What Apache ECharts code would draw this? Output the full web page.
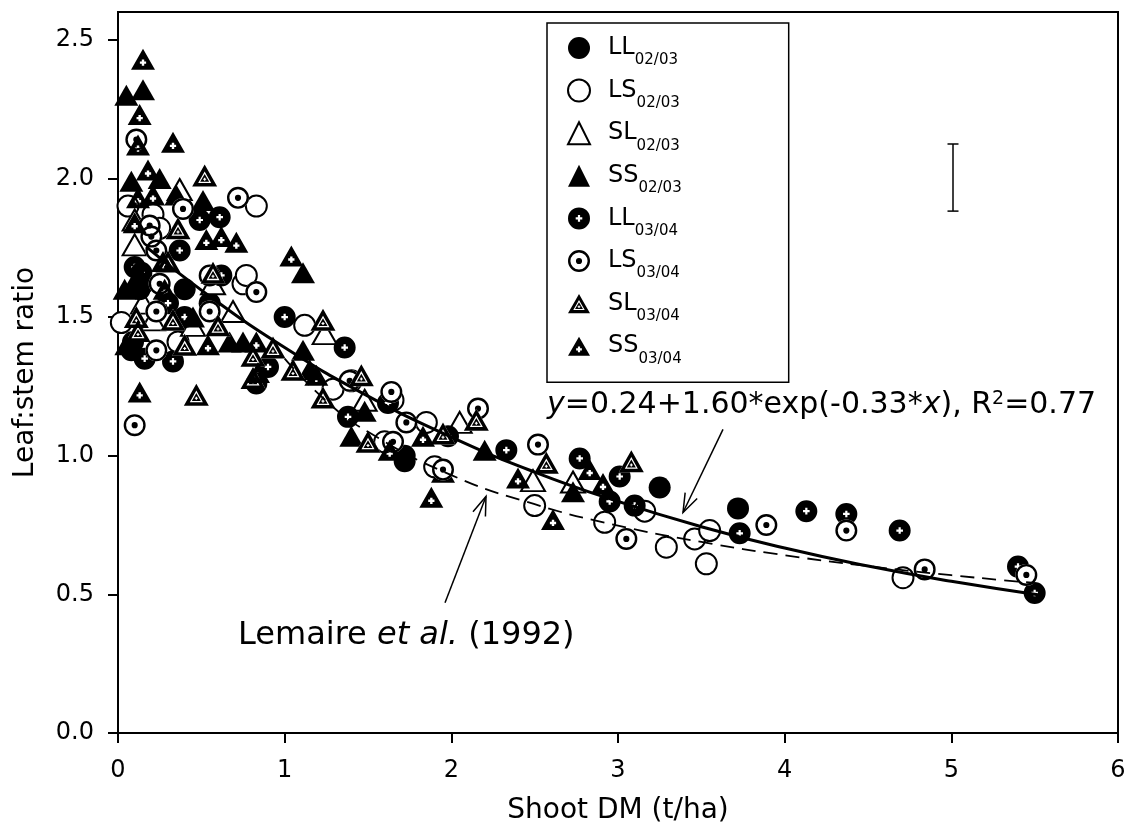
<!DOCTYPE html>
<html><head><meta charset="utf-8">
<script src="https://cdn.jsdelivr.net/npm/echarts@6/dist/echarts.min.js"></script>
<style>html,body{margin:0;padding:0;background:#fff}#c{width:1130px;height:839px}</style>
</head><body><div id="c"></div>
<script>
// ---- data ----
const LL0203 = [[0.40,1.60],[0.15,1.62],[0.55,1.55],[1.72,1.00],[3.25,0.885],[3.72,0.81]];
const LS0203 = [[0.02,1.48],[0.06,1.90],[0.21,1.87],[0.25,1.82],[0.36,1.41],[0.75,1.62],[0.77,1.65],[0.83,1.90],[1.12,1.47],[1.29,1.24],[1.40,1.27],[1.60,1.05],[1.65,1.20],[1.85,1.12],[1.90,0.96],[2.50,0.82],[2.92,0.76],[3.16,0.80],[3.29,0.67],[3.46,0.70],[3.53,0.61],[3.55,0.73],[4.71,0.56]];
const SL0203 = [[0.10,1.76],[0.10,1.85],[0.15,1.55],[0.21,1.49],[0.37,1.96],[0.45,1.47],[0.57,1.62],[0.69,1.52],[1.24,1.44],[1.48,1.20],[2.05,1.12],[2.49,0.91],[2.73,0.905]];
const SS0203 = [[0.04,1.60],[0.05,2.30],[0.08,1.99],[0.10,1.63],[0.15,2.32],[0.25,2.00],[0.35,1.94],[0.45,1.50],[0.51,1.92],[0.67,1.41],[0.75,1.41],[1.11,1.66],[1.11,1.38],[1.15,1.31],[1.40,1.07],[1.48,1.16],[1.95,0.94],[2.20,1.02],[2.73,0.87]];
const LL0304 = [[0.08,1.38],[0.09,1.41],[0.10,1.68],[0.13,1.60],[0.14,1.66],[0.16,1.35],[0.30,1.55],[0.33,1.34],[0.37,1.74],[0.40,1.50],[0.49,1.85],[0.61,1.86],[0.62,1.65],[0.83,1.26],[0.90,1.32],[1.00,1.50],[1.36,1.39],[1.38,1.14],[1.62,1.19],[1.72,0.98],[1.98,1.07],[2.33,1.02],[2.77,0.99],[2.95,0.835],[3.01,0.925],[3.10,0.82],[3.73,0.72],[4.13,0.80],[4.37,0.79],[4.69,0.73],[5.40,0.60],[5.50,0.505]];
const LS0304 = [[0.10,1.11],[0.11,2.14],[0.19,1.83],[0.20,1.79],[0.23,1.74],[0.23,1.52],[0.23,1.38],[0.25,1.62],[0.39,1.89],[0.55,1.52],[0.55,1.65],[0.72,1.93],[0.83,1.59],[1.39,1.27],[1.64,1.23],[1.65,1.05],[1.73,1.12],[1.95,0.95],[2.16,1.17],[2.52,1.04],[3.05,0.70],[3.89,0.75],[4.37,0.73],[4.84,0.59],[5.45,0.57]];
const SL0304 = [[0.11,1.50],[0.12,1.45],[0.30,1.70],[0.33,1.49],[0.36,1.82],[0.40,1.40],[0.47,1.22],[0.52,2.01],[0.57,1.66],[0.60,1.47],[0.81,1.36],[0.81,1.28],[0.93,1.39],[1.05,1.31],[1.23,1.49],[1.23,1.21],[1.46,1.29],[1.50,1.05],[1.95,1.08],[2.15,1.13],[2.57,0.975],[3.08,0.98]];
const SS0304 = [[0.05,1.40],[0.10,1.84],[0.12,1.93],[0.12,2.12],[0.13,1.23],[0.13,2.23],[0.15,2.43],[0.18,2.03],[0.21,1.94],[0.27,1.70],[0.28,1.60],[0.33,2.13],[0.53,1.78],[0.54,1.40],[0.62,1.79],[0.71,1.77],[0.83,1.41],[0.84,1.30],[1.04,1.72],[1.19,1.29],[1.63,1.02],[1.83,1.07],[1.88,0.85],[2.40,0.92],[2.61,0.77],[2.83,0.95],[2.91,0.90]];

// fitted curve y=0.24+1.60*exp(-0.33x) (tabulated) and Lemaire et al. (1992) curve
const fitX = [0.17,0.5,1,1.5,2,2.5,3,3.5,4,4.5,5,5.55];
const fitY = [1.753,1.597,1.390,1.215,1.067,0.941,0.835,0.744,0.667,0.602,0.547,0.496];
const lemX = [1.0,1.25,1.5,2,2.5,3,3.5,4,4.5,5,5.5];
const lemY = [1.35,1.197,1.086,0.930,0.825,0.748,0.689,0.641,0.602,0.569,0.541];

// error bar
const errX = [5.01];
const errLow = [1.882];
const errHigh = [2.124];

// annotation arrows: [startX, startY, tipX, tipY]
const arrowEq = [3.63,1.095,3.39,0.795];
const arrowLem = [1.962,0.470,2.208,0.853];

const xTicks = [0,1,2,3,4,5,6];
const yTicks = [0,0.5,1.0,1.5,2.0,2.5];

const legendNames = ['LL02/03','LS02/03','SL02/03','SS02/03','LL03/04','LS03/04','SL03/04','SS03/04'];

// ---- styling ----
const FONT = 'DejaVu Sans';
const P_LL34 = 'path://M50 0 A50 50 0 1 1 50 100 A50 50 0 1 1 50 0 Z M45 35 L45 45 L35 45 L35 55 L45 55 L45 65 L55 65 L55 55 L65 55 L65 45 L55 45 L55 35 Z';
const P_LS34 = 'path://M50 0 A50 50 0 1 1 50 100 A50 50 0 1 1 50 0 Z M50 11 A39 39 0 1 0 50 89 A39 39 0 1 0 50 11 Z M50 36 A14 14 0 1 1 50 64 A14 14 0 1 1 50 36 Z';
const P_SL34 = 'path://M50 0 L100 87 L0 87 Z M50 27 L24 73 L76 73 Z M50 37 L68 68 L32 68 Z M47.5 52 L47.5 56 L44 56 L44 60 L47.5 60 L47.5 64 L52.5 64 L52.5 60 L56 60 L56 56 L52.5 56 L52.5 52 Z';
const P_SS34 = 'path://M50 0 L100 87 L0 87 Z M45 45 L45 53 L37 53 L37 63 L45 63 L45 71 L55 71 L55 63 L63 63 L63 53 L55 53 L55 45 Z';

function sc(name, data, symbol, size, itemStyle, z) {
  return {type:'scatter', name:name, data:data, symbol:symbol, symbolSize:size,
    itemStyle:Object.assign({opacity:1}, itemStyle), z:z||2, silent:true, emphasis:{disabled:true}, animation:false};
}
const black = {color:'#000'};
const hollow = {color:'#fff', borderColor:'#000', borderWidth:2};

const series = [
  sc('LL02/03', LL0203, 'circle', 22, black),
  sc('LS02/03', LS0203, 'circle', 21, hollow),
  sc('SL02/03', SL0203, 'triangle', [24,21], hollow),
  sc('SS02/03', SS0203, 'triangle', [24,21], black),
  sc('LL03/04', LL0304, P_LL34, 22, black),
  sc('LS03/04', LS0304, 'circle', 22, {color:'#fff'}),
  sc('LS03/04 mark', LS0304, P_LS34, 22, black),
  sc('SL03/04', SL0304, 'triangle', [25,22], {color:'#fff'}),
  sc('SL03/04 mark', SL0304, P_SL34, [25,22], black),
  sc('SS03/04', SS0304, P_SS34, [24,21], black),
  {type:'line', name:'fit', data: fitX.map((x,i)=>[x,fitY[i]]), smooth:true, symbol:'none',
    lineStyle:{color:'#000', width:3}, z:4, silent:true, animation:false},
  {type:'line', name:'Lemaire', data: lemX.map((x,i)=>[x,lemY[i]]), smooth:true, symbol:'none',
    lineStyle:{color:'#000', width:1.8, type:[14,8]}, z:4, silent:true, animation:false},
  {type:'custom', name:'arrows', data:[arrowEq, arrowLem], encode:{x:[0,2], y:[1,3]},
    silent:true, z:5, animation:false, clip:false,
    renderItem:function(params, api){
      const s = api.coord([api.value(0), api.value(1)]);
      const t = api.coord([api.value(2), api.value(3)]);
      const ang = Math.atan2(s[1]-t[1], s[0]-t[0]);
      const L = 20, a = 0.34, st = {stroke:'#000', lineWidth:1.5};
      const l1 = [t[0]+L*Math.cos(ang+a), t[1]+L*Math.sin(ang+a)];
      const l2 = [t[0]+L*Math.cos(ang-a), t[1]+L*Math.sin(ang-a)];
      return {type:'group', children:[
        {type:'line', shape:{x1:s[0], y1:s[1], x2:t[0], y2:t[1]}, style:st},
        {type:'polyline', shape:{points:[l1, t, l2]}, style:Object.assign({fill:null}, st)}
      ]};
    }},
  {type:'custom', name:'err', data: errX.map((x,i)=>[x, errLow[i], errHigh[i]]),
    encode:{x:0, y:[1,2]}, silent:true, z:5, animation:false,
    renderItem:function(params, api){
      const x = api.value(0);
      const lo = api.coord([x, api.value(1)]);
      const hi = api.coord([x, api.value(2)]);
      const w = 5.5, st = {stroke:'#000', lineWidth:1.5};
      return {type:'group', children:[
        {type:'line', shape:{x1:lo[0], y1:lo[1], x2:hi[0], y2:hi[1]}, style:st},
        {type:'line', shape:{x1:lo[0]-w, y1:lo[1], x2:lo[0]+w, y2:lo[1]}, style:st},
        {type:'line', shape:{x1:hi[0]-w, y1:hi[1], x2:hi[0]+w, y2:hi[1]}, style:st}
      ]};
    }}
];

const legendIcons = {
  'LL02/03':{icon:'circle'},
  'LS02/03':{icon:'circle'},
  'SL02/03':{icon:'triangle'},
  'SS02/03':{icon:'triangle'},
  'LL03/04':{icon:P_LL34},
  'LS03/04':{icon:P_LS34, itemStyle:{color:'#000', borderWidth:0, opacity:1}},
  'SL03/04':{icon:P_SL34, itemStyle:{color:'#000', borderWidth:0, opacity:1}},
  'SS03/04':{icon:P_SS34}
};

const chart = echarts.init(document.getElementById('c'), null, {renderer:'canvas'});
chart.setOption({
  backgroundColor:'#fff',
  animation:false,
  textStyle:{fontFamily:FONT, color:'#000'},
  grid:{left:118, right:12, top:12, bottom:106, show:true, borderColor:'#000', borderWidth:2, backgroundColor:'transparent'},
  xAxis:{type:'value', min:0, max:6, interval:1,
    axisLine:{show:true, onZero:false, lineStyle:{color:'#000', width:2}},
    axisTick:{show:true, inside:false, length:10, lineStyle:{color:'#000', width:2}, customValues:xTicks},
    axisLabel:{color:'#000', fontFamily:FONT, fontSize:24, margin:26, customValues:xTicks},
    splitLine:{show:false},
    name:'Shoot DM (t/ha)', nameLocation:'middle', nameGap:64,
    nameTextStyle:{fontFamily:FONT, fontSize:28, color:'#000'}},
  yAxis:{type:'value', min:0, max:2.6, interval:0.5,
    axisLine:{show:true, onZero:false, lineStyle:{color:'#000', width:2}},
    axisTick:{show:true, inside:false, length:10, lineStyle:{color:'#000', width:2}, customValues:yTicks},
    axisLabel:{color:'#000', fontFamily:FONT, fontSize:24, margin:24, customValues:yTicks,
      formatter:function(v){return v.toFixed(1);}},
    splitLine:{show:false},
    name:'Leaf:stem ratio', nameLocation:'middle', nameGap:78,
    nameTextStyle:{fontFamily:FONT, fontSize:28, color:'#000'}},
  legend:{orient:'vertical', left:547, top:23, padding:[13,107,16,20],
    itemWidth:22, itemHeight:22, itemGap:10.6, selectedMode:false,
    borderColor:'#000', borderWidth:1.5, backgroundColor:'#fff',
    itemStyle:{opacity:1},
    data: legendNames.map(n => Object.assign({name:n}, legendIcons[n])),
    formatter:function(n){ return '{m|' + n.slice(0,2) + '}{s|' + n.slice(2) + '}'; },
    textStyle:{fontFamily:FONT, fontSize:24, color:'#000',
      rich:{
        m:{fontFamily:FONT, fontSize:24, lineHeight:24, verticalAlign:'top', padding:[0,0,0,13], color:'#000'},
        s:{fontFamily:FONT, fontSize:15, lineHeight:15, verticalAlign:'top', padding:[17,0,0,0], color:'#000'}
      }}},
  graphic:[
    {type:'text', left:547, top:390, z:10, silent:true,
      style:{text:'{i|y}=0.24+1.60*exp(-0.33*{i|x}), R{sup|2}=0.77', fontFamily:FONT, fontSize:30, fill:'#000',
        rich:{i:{fontFamily:FONT, fontSize:30, fontStyle:'italic', fill:'#000'},
              sup:{fontFamily:FONT, fontSize:19, lineHeight:19, verticalAlign:'top', fill:'#000'}}}},
    {type:'text', left:238, top:620, z:10, silent:true,
      style:{text:'Lemaire {i|et al.} (1992)', fontFamily:FONT, fontSize:32, fill:'#000',
        rich:{i:{fontFamily:FONT, fontSize:32, fontStyle:'italic', fill:'#000'}}}}
  ],
  series: series
});
</script>
</body></html>
